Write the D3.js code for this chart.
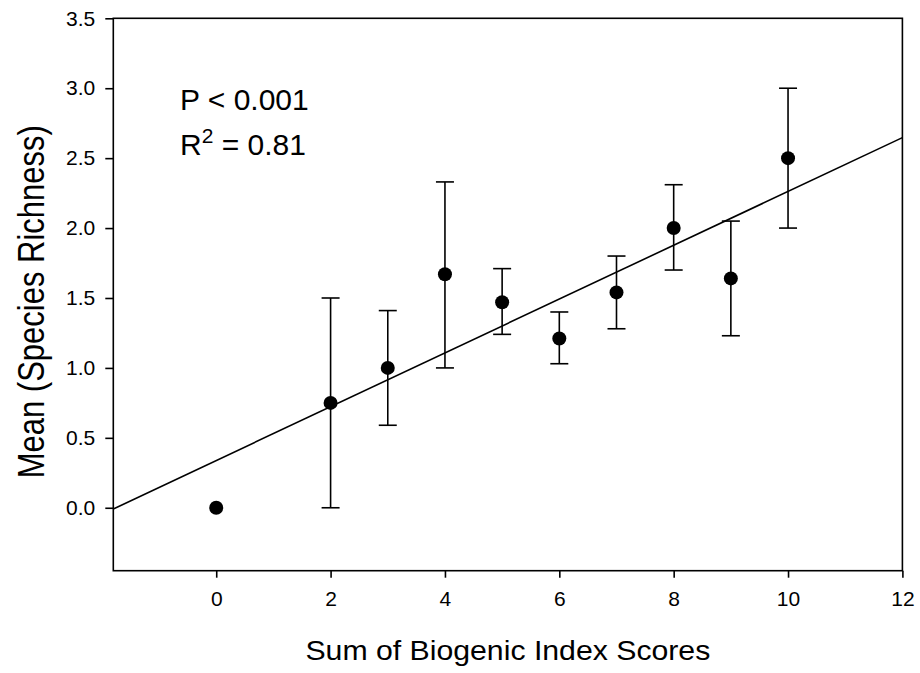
<!DOCTYPE html>
<html>
<head>
<meta charset="utf-8">
<script src="https://cdn.jsdelivr.net/npm/d3@7/dist/d3.min.js"></script>
<style>
  html, body { margin: 0; padding: 0; background: #fff; }
  svg { display: block; font-family: Arial, "Liberation Sans", sans-serif; }
</style>
</head>
<body>
<svg id="chart" width="920" height="673"></svg>
<script>
// ---- data ----
const scores   = [0, 2, 3, 4, 5, 6, 7, 8, 9, 10];
const means    = [0.00, 0.75, 1.00, 1.67, 1.47, 1.21, 1.54, 2.00, 1.64, 2.50];
const lowerErr = [null, 0.00, 0.59, 1.00, 1.24, 1.03, 1.28, 1.70, 1.23, 2.00];
const upperErr = [null, 1.50, 1.41, 2.33, 1.71, 1.40, 1.80, 2.31, 2.05, 3.00];
const xTicks   = [0, 2, 4, 6, 8, 10, 12];
const yTicks   = [0.0, 0.5, 1.0, 1.5, 2.0, 2.5, 3.0, 3.5];
const fitSlope = 0.1924;
const fitIntercept = 0.338;
const xDomain = [-1.8, 12];
const yDomain = [-0.45, 3.5];

const svg = d3.select("#chart");
const W = 920, H = 673;
const margin = { left: 113.3, right: W - 902.4, top: 18.3, bottom: H - 570.7 };

const x = d3.scaleLinear().domain(xDomain).range([margin.left, W - margin.right]);
const y = d3.scaleLinear().domain(yDomain).range([H - margin.bottom, margin.top]);

// frame
svg.append("rect")
  .attr("x", x(xDomain[0])).attr("y", y(yDomain[1]))
  .attr("width", x(xDomain[1]) - x(xDomain[0]))
  .attr("height", y(yDomain[0]) - y(yDomain[1]))
  .attr("fill", "none").attr("stroke", "#000").attr("stroke-width", 1.6);

// axes
const xAxis = d3.axisBottom(x).tickValues(xTicks).tickFormat(d3.format("d"))
  .tickSizeInner(7).tickSizeOuter(0).tickPadding(13);
const yAxis = d3.axisLeft(y).tickValues(yTicks).tickFormat(d3.format(".1f"))
  .tickSizeInner(8).tickSizeOuter(0).tickPadding(10);

const gx = svg.append("g").attr("transform", `translate(0,${y(yDomain[0])})`).call(xAxis);
const gy = svg.append("g").attr("transform", `translate(${x(xDomain[0])},0)`).call(yAxis);
[gx, gy].forEach(g => {
  g.select(".domain").remove();
  g.selectAll(".tick line").attr("stroke", "#000").attr("stroke-width", 1.6);
  g.selectAll(".tick text").attr("fill", "#000").style("font-size", "21px");
});

// regression line
const clipId = "plotclip";
svg.append("clipPath").attr("id", clipId).append("rect")
  .attr("x", x(xDomain[0])).attr("y", y(yDomain[1]))
  .attr("width", x(xDomain[1]) - x(xDomain[0]))
  .attr("height", y(yDomain[0]) - y(yDomain[1]));
svg.append("line")
  .attr("clip-path", `url(#${clipId})`)
  .attr("x1", x(xDomain[0])).attr("y1", y(fitIntercept + fitSlope * xDomain[0]))
  .attr("x2", x(xDomain[1])).attr("y2", y(fitIntercept + fitSlope * xDomain[1]))
  .attr("stroke", "#000").attr("stroke-width", 1.6);

// error bars
const capHalf = 9;
const eb = svg.append("g").attr("stroke", "#000").attr("stroke-width", 1.6);
scores.forEach((s, i) => {
  if (lowerErr[i] === null) return;
  eb.append("line").attr("x1", x(s)).attr("x2", x(s))
    .attr("y1", y(lowerErr[i])).attr("y2", y(upperErr[i]));
  eb.append("line").attr("x1", x(s) - capHalf).attr("x2", x(s) + capHalf)
    .attr("y1", y(lowerErr[i])).attr("y2", y(lowerErr[i]));
  eb.append("line").attr("x1", x(s) - capHalf).attr("x2", x(s) + capHalf)
    .attr("y1", y(upperErr[i])).attr("y2", y(upperErr[i]));
});

// points
svg.append("g").selectAll("circle").data(scores).join("circle")
  .attr("cx", d => x(d)).attr("cy", (d, i) => y(means[i]))
  .attr("r", 7).attr("fill", "#000");

// annotations
svg.append("text").attr("x", 180).attr("y", 110)
  .style("font-size", "30px").attr("fill", "#000").text("P < 0.001");
const r2 = svg.append("text").attr("x", 180).attr("y", 155)
  .style("font-size", "30px").attr("fill", "#000");
r2.append("tspan").text("R");
r2.append("tspan").attr("dy", -12).style("font-size", "21px").text("2");
r2.append("tspan").attr("dy", 12).text(" = 0.81");

// axis titles
svg.append("text")
  .attr("transform", `translate(${(x(xDomain[0]) + x(xDomain[1])) / 2},660) scale(1.08,1)`)
  .attr("text-anchor", "middle").style("font-size", "28px").attr("fill", "#000")
  .text("Sum of Biogenic Index Scores");
svg.append("text")
  .attr("transform", `translate(43.5,301.7) rotate(-90) scale(1,1.2)`)
  .attr("text-anchor", "middle").style("font-size", "31px").attr("fill", "#000")
  .text("Mean (Species Richness)");
</script>
</body>
</html>
